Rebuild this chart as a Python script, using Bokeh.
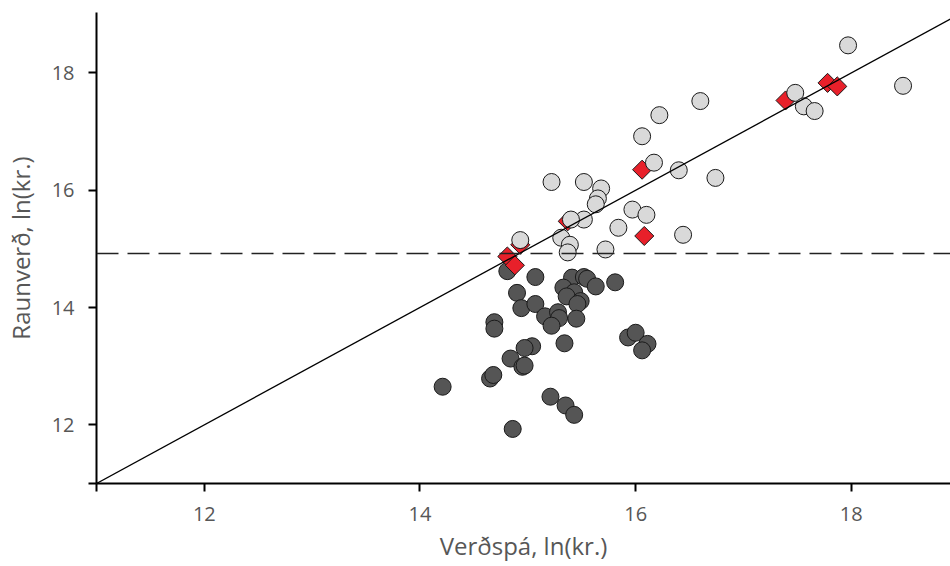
import numpy as np
from bokeh.plotting import figure
from bokeh.models import Range1d, FixedTicker, Span
from bokeh.embed import file_html
from bokeh.resources import INLINE

# Dark circles (below threshold)
dark_x = [14.81, 15.07, 15.41, 15.52, 15.55, 15.63, 15.81, 15.33, 15.43, 15.36,
          15.49, 15.46, 14.90, 14.94, 15.07, 15.16, 15.28, 15.29, 15.22, 15.45,
          14.69, 14.69, 15.93, 16.00, 16.11, 16.06, 15.34, 15.04, 14.97, 14.84,
          14.95, 14.97, 14.65, 14.68, 14.21, 15.21, 15.35, 15.43, 14.86]
dark_y = [14.62, 14.52, 14.51, 14.52, 14.49, 14.36, 14.43, 14.34, 14.26, 14.19,
          14.11, 14.06, 14.25, 13.99, 14.06, 13.85, 13.92, 13.82, 13.69, 13.81,
          13.75, 13.64, 13.49, 13.57, 13.38, 13.27, 13.39, 13.34, 13.31, 13.13,
          12.99, 13.01, 12.79, 12.85, 12.65, 12.48, 12.33, 12.17, 11.93]

# Light circles (above threshold)
light_x = [17.97, 18.48, 16.60, 16.22, 16.06, 16.17, 16.40, 16.74, 17.48, 17.56,
           17.66, 15.22, 15.52, 15.68, 15.65, 15.63, 15.52, 15.40, 15.31, 15.39,
           15.37, 15.72, 15.84, 15.97, 16.10, 16.44, 14.93]
light_y = [18.47, 17.78, 17.52, 17.28, 16.92, 16.47, 16.34, 16.21, 17.66, 17.43,
           17.35, 16.14, 16.14, 16.03, 15.86, 15.76, 15.50, 15.50, 15.19, 15.07,
           14.94, 14.99, 15.36, 15.67, 15.58, 15.24, 15.15]

# Red diamonds
red_x = [17.39, 17.78, 17.87, 16.06, 16.08, 15.37, 14.93, 14.81, 14.88]
red_y = [17.53, 17.83, 17.77, 16.35, 15.22, 15.47, 15.07, 14.87, 14.72]

# Reference lines
diag = [11, 19]
threshold = 14.92

tick_values = [11, 12, 14, 16, 18]
tick_labels = {11: "", 12: "12", 14: "14", 16: "16", 18: "18"}

x_title = "Verðspá, ln(kr.)"
y_title = "Raunverð, ln(kr.)"

FONT = "Open Sans"
TXT = "#575757"

p = figure(width=950, height=566, output_backend="svg", toolbar_location=None,
           x_range=Range1d(11, 18.92), y_range=Range1d(11, 19.03),
           min_border_left=96, min_border_right=0, min_border_top=12,
           min_border_bottom=83)
p.outline_line_color = None
p.grid.grid_line_color = None
p.background_fill_color = "white"

for ax in (p.xaxis[0], p.yaxis[0]):
    ax.ticker = FixedTicker(ticks=tick_values)
    ax.major_label_overrides = tick_labels
    ax.axis_line_width = 2
    ax.axis_line_color = "black"
    ax.major_tick_line_width = 2
    ax.major_tick_line_color = "black"
    ax.major_tick_out = 8
    ax.major_tick_in = 0
    ax.minor_tick_line_color = None
    ax.major_label_text_font = FONT
    ax.major_label_text_font_size = "20px"
    ax.major_label_text_color = TXT
    ax.axis_label_text_font = FONT
    ax.axis_label_text_font_size = "24px"
    ax.axis_label_text_font_style = "normal"
    ax.axis_label_text_color = TXT

p.xaxis.axis_label = x_title
p.yaxis.axis_label = y_title
p.xaxis.major_label_standoff = 15
p.yaxis.major_label_standoff = 14
p.xaxis.axis_label_standoff = 5
p.yaxis.axis_label_standoff = 12

span = Span(location=threshold, dimension="width", line_color="#222222",
            line_width=1.5, line_dash="22 9")
p.add_layout(span)

p.scatter(dark_x, dark_y, marker="circle", size=17, fill_color="#555555",
          line_color="#1a1a1a", line_width=1)
p.scatter(red_x, red_y, marker="square", angle=np.pi / 4, size=13.5,
          fill_color="#e8202a", line_color="#1a1a1a", line_width=1)
p.scatter(light_x, light_y, marker="circle", size=17, fill_color="#d9d9d9",
          line_color="#1a1a1a", line_width=1)
p.line(diag, diag, line_color="black", line_width=1.3)

open("out.html", "w").write(file_html(p, INLINE))
